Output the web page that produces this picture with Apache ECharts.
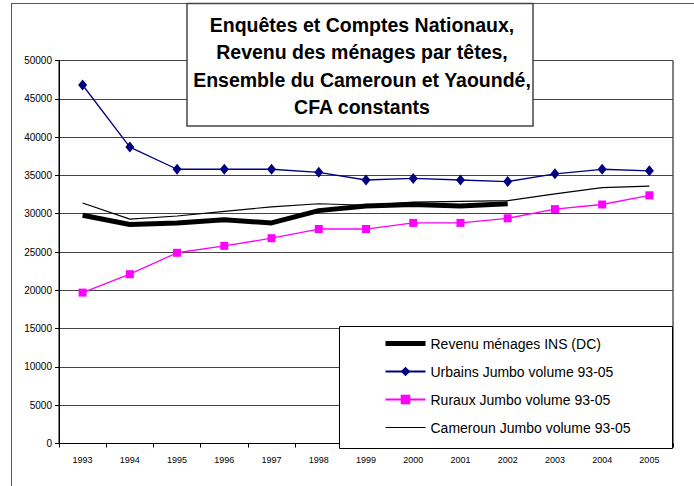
<!DOCTYPE html>
<html>
<head>
<meta charset="utf-8">
<style>
html,body{margin:0;padding:0;background:#fff;}
#c{width:694px;height:486px;}
</style>
<script src="https://cdn.jsdelivr.net/npm/echarts@6/dist/echarts.min.js"></script>
</head>
<body>
<div id="c"></div>
<script>
var years = ['1993','1994','1995','1996','1997','1998','1999','2000','2001','2002','2003','2004','2005'];
var yTicks = [0,5000,10000,15000,20000,25000,30000,35000,40000,45000,50000];
var revenuINS = [29800, 28600, 28800, 29200, 28800, 30400, 31000, 31200, 31000, 31300];
var urbains = [46800, 38700, 35800, 35800, 35800, 35400, 34400, 34600, 34400, 34200, 35200, 35800, 35600];
var ruraux = [19700, 22100, 24900, 25800, 26800, 28000, 28000, 28800, 28800, 29400, 30600, 31200, 32400];
var cameroun = [31400, 29300, 29700, 30300, 30900, 31300, 31100, 31500, 31600, 31700, 32600, 33400, 33600];
var titleLines = ['Enquêtes et Comptes Nationaux,', 'Revenu des ménages par têtes,', 'Ensemble du Cameroun et Yaoundé,', 'CFA constants'];
var names = ['Revenu ménages INS (DC)', 'Urbains Jumbo volume 93-05', 'Ruraux Jumbo volume 93-05', 'Cameroun Jumbo volume 93-05'];

var font = '"Liberation Sans", Arial, sans-serif';
var chart = echarts.init(document.getElementById('c'), null, {renderer: 'svg'});
chart.setOption({
  animation: false,
  backgroundColor: '#fff',
  textStyle: {fontFamily: font, color: '#000'},
  title: {
    text: titleLines.join('\n'),
    left: 357, top: 6, textAlign: 'center', padding: 5,
    textStyle: {fontFamily: font, fontSize: 19.5, fontWeight: 'bold', color: '#000', lineHeight: 27.5, align: 'center'},
    z: 6
  },
  graphic: [
    {type: 'line', shape: {x1: 11, y1: 3.5, x2: 694, y2: 3.5}, style: {stroke: '#555', lineWidth: 1}, z: 1},
    {type: 'line', shape: {x1: 11.5, y1: 3, x2: 11.5, y2: 486}, style: {stroke: '#555', lineWidth: 1}, z: 1},
    {type: 'rect', shape: {x: 187, y: 3.5, width: 346, height: 122.5}, style: {fill: '#fff', stroke: '#444', lineWidth: 1.5}, z: 5},
    {type: 'rect', shape: {x: 339.5, y: 326.5, width: 333, height: 122}, style: {fill: '#fff', stroke: '#000', lineWidth: 1}, z: 3}
  ],
  legend: {
    orient: 'vertical', left: 383, top: 336.5, padding: 0,
    itemWidth: 40, itemHeight: 12, itemGap: 14,
    textStyle: {fontFamily: font, fontSize: 14, color: '#000'},
    data: [
      {name: names[0], itemStyle: {opacity: 0}, lineStyle: {width: 5}},
      {name: names[1]},
      {name: names[2]},
      {name: names[3], itemStyle: {opacity: 0}, lineStyle: {width: 1.2}}
    ],
    z: 4
  },
  grid: {left: 59, right: 21, top: 60.5, bottom: 42.5, show: true, borderColor: '#000', borderWidth: 1, backgroundColor: 'transparent'},
  xAxis: {
    type: 'category', data: years, boundaryGap: true,
    axisLine: {lineStyle: {color: '#000', width: 1}},
    axisTick: {show: true, length: 4, lineStyle: {color: '#000'}},
    axisLabel: {fontSize: 9, color: '#000', margin: 12, fontFamily: font, interval: 0},
    splitLine: {show: false}
  },
  yAxis: {
    type: 'value', min: 0, max: 50000, interval: 5000,
    axisLine: {show: true, lineStyle: {color: '#000', width: 1}},
    axisTick: {show: true, length: 4, lineStyle: {color: '#000'}},
    axisLabel: {fontSize: 10, color: '#000', margin: 7, fontFamily: font, formatter: function (v) { return String(v); }},
    splitLine: {show: true, lineStyle: {color: '#444', width: 1}}
  },
  series: [
    {name: names[0], type: 'line', data: revenuINS, symbol: 'none', showSymbol: false,
     lineStyle: {color: '#000', width: 5}, itemStyle: {color: '#000'}, z: 2},
    {name: names[1], type: 'line', data: urbains, symbol: 'diamond', symbolSize: [9, 11], showSymbol: true,
     lineStyle: {color: '#000080', width: 1.3}, itemStyle: {color: '#000080'}, z: 2},
    {name: names[2], type: 'line', data: ruraux, symbol: 'rect', symbolSize: 8, showSymbol: true,
     lineStyle: {color: '#ff00ff', width: 1.3}, itemStyle: {color: '#ff00ff'}, z: 2},
    {name: names[3], type: 'line', data: cameroun, symbol: 'none', showSymbol: false,
     lineStyle: {color: '#000', width: 1.2}, itemStyle: {color: '#000'}, z: 2}
  ]
});
</script>
</body>
</html>
